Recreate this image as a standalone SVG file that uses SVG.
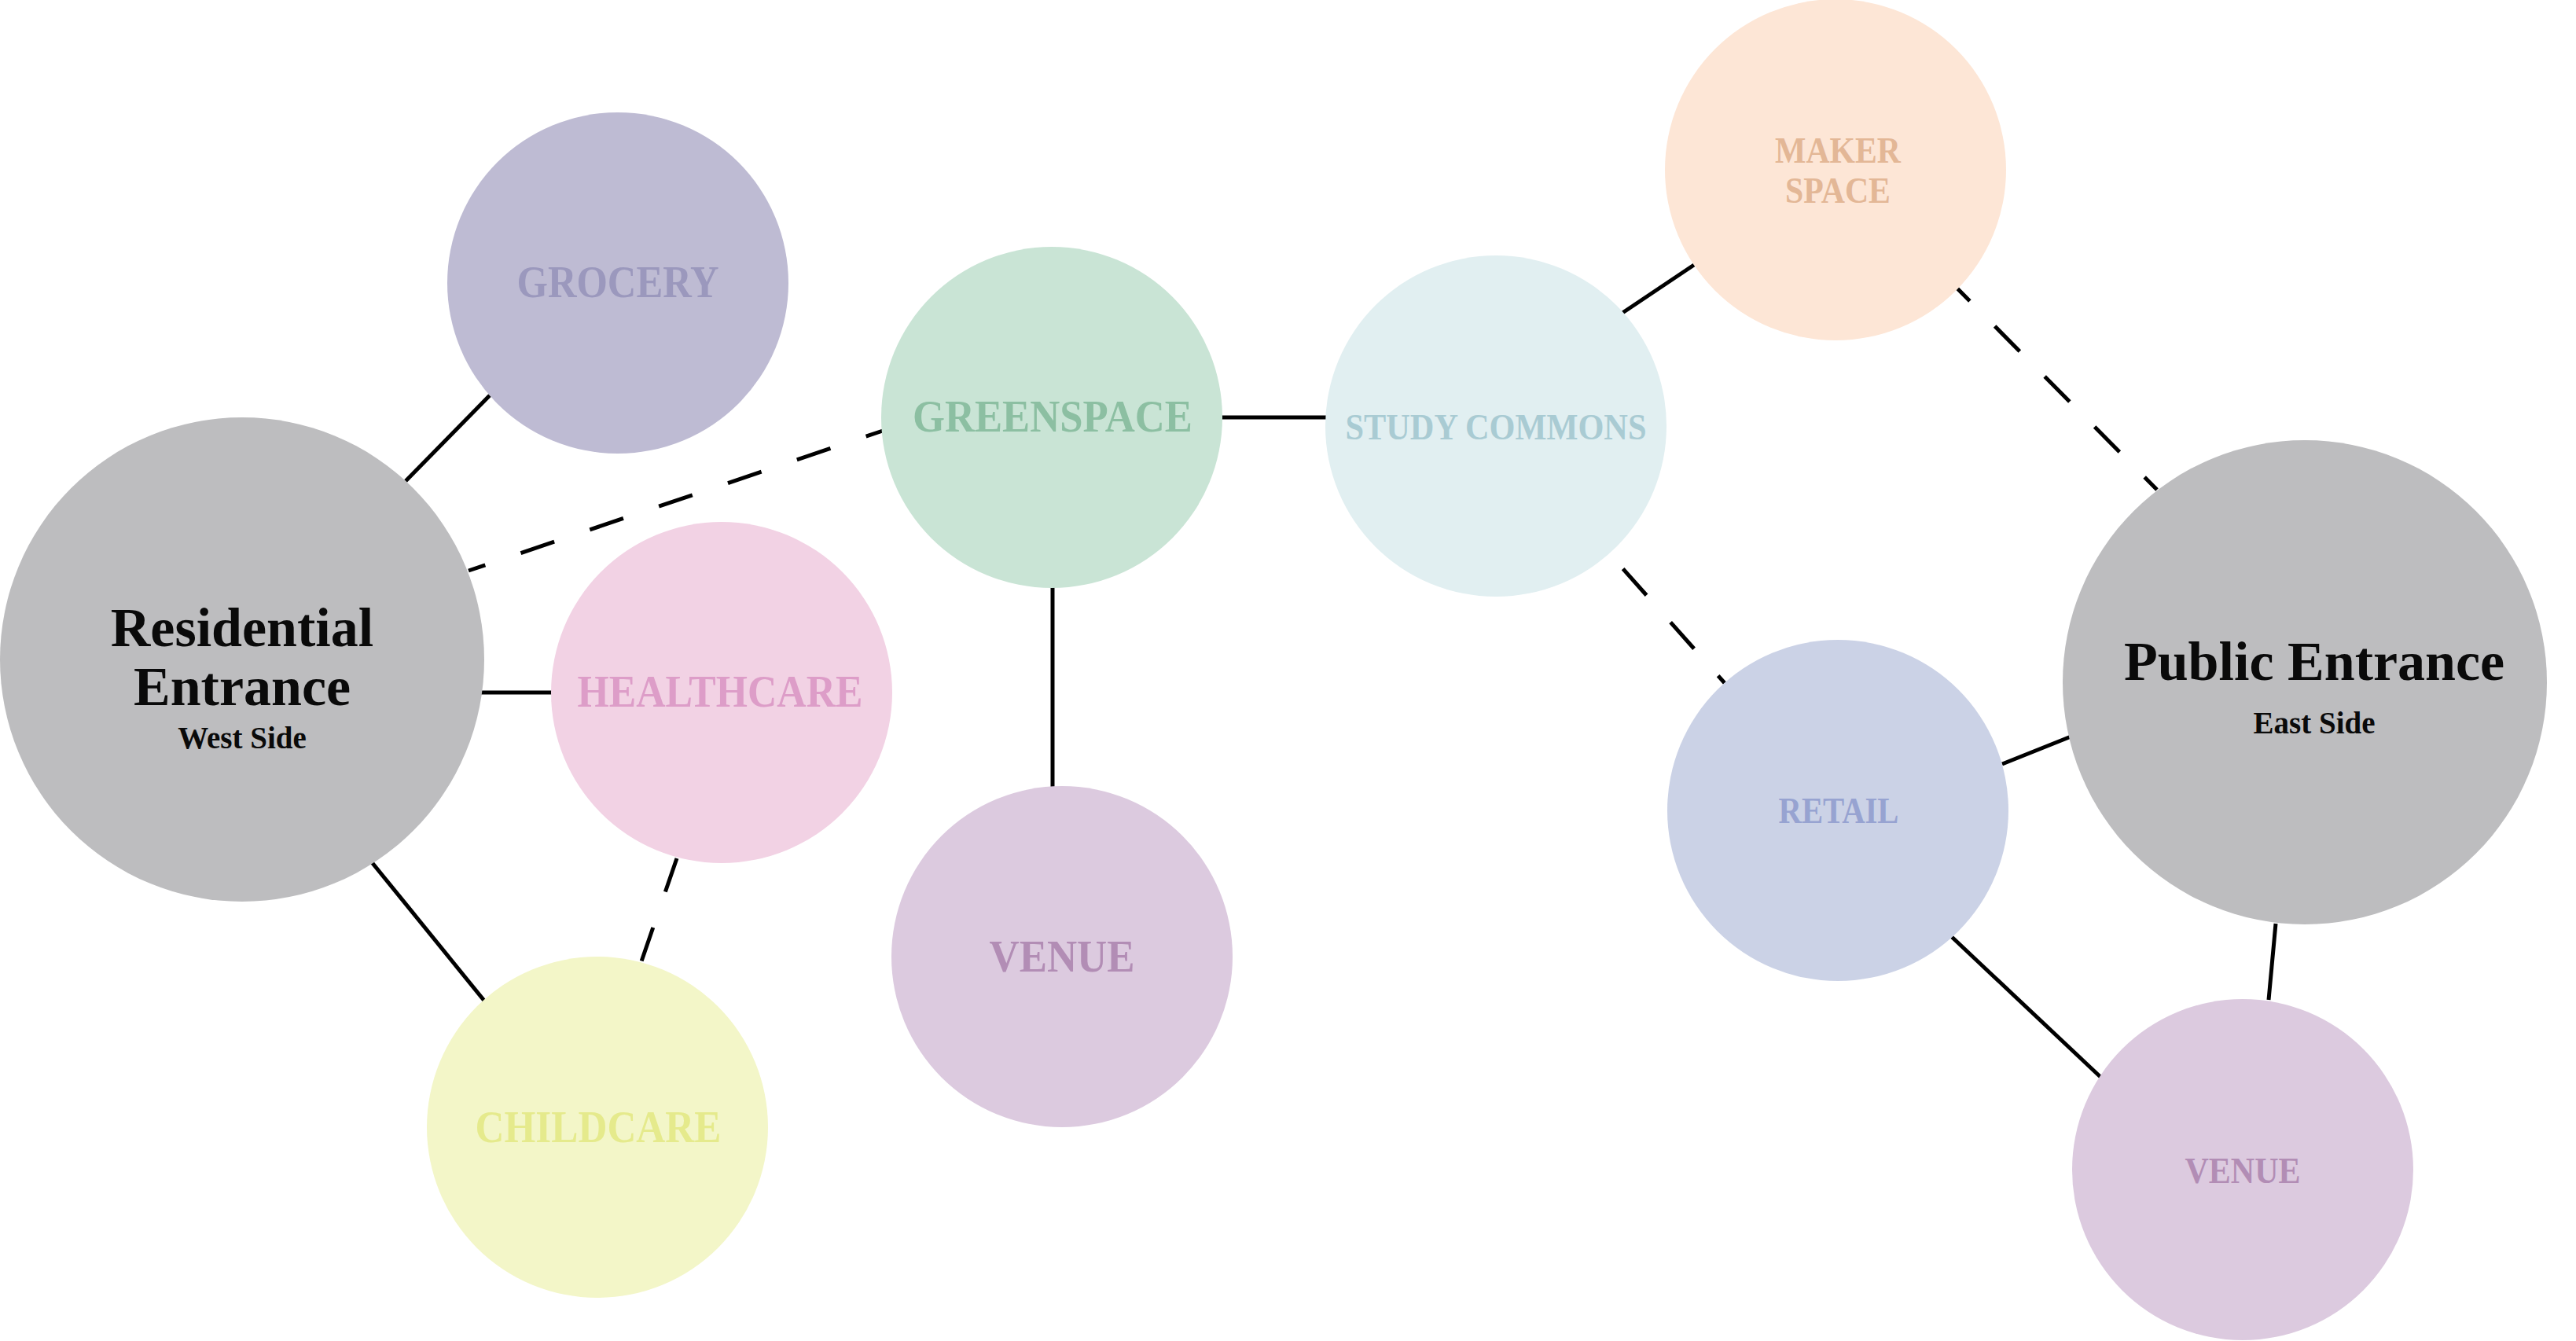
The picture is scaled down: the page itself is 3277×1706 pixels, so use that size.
<svg xmlns="http://www.w3.org/2000/svg" width="3277" height="1706" viewBox="0 0 3277 1706">
<style>
.bg{fill:#ffffff}
.ln{stroke:#000000;stroke-width:5;fill:none;stroke-linecap:butt}
.big{fill:#bdbdbf}
.lbl{font-family:"Liberation Serif","Times New Roman",serif;font-weight:bold;text-anchor:middle}
.ent{fill:#0a0a0a;font-size:70px}
.sub{fill:#0a0a0a;font-size:39px}
.sm{font-size:56px}
.xs{font-size:46px}
</style>
<rect class="bg" x="0" y="0" width="3277" height="1706"/>
<g id="connectors">
  <line class="ln" x1="516" y1="612" x2="623" y2="503"/>
  <line class="ln" x1="596" y1="726" x2="1123" y2="548" stroke-dasharray="45 47.7" stroke-dashoffset="22.5"/>
  <line class="ln" x1="612" y1="881" x2="704" y2="881"/>
  <line class="ln" x1="473" y1="1097" x2="616" y2="1273"/>
  <line class="ln" x1="861" y1="1092" x2="816" y2="1223" stroke-dasharray="45 48"/>
  <line class="ln" x1="1339" y1="745" x2="1339" y2="1004"/>
  <line class="ln" x1="1552" y1="531" x2="1690" y2="531"/>
  <line class="ln" x1="2064" y1="398" x2="2155" y2="337"/>
  <line class="ln" x1="2048" y1="705" x2="2194" y2="869" stroke-dasharray="45 46" stroke-dashoffset="66"/>
  <line class="ln" x1="2490" y1="367" x2="2744" y2="623" stroke-dasharray="45 45.15" stroke-dashoffset="22.5"/>
  <line class="ln" x1="2547" y1="972" x2="2637" y2="936"/>
  <line class="ln" x1="2483" y1="1192" x2="2672" y2="1370"/>
  <line class="ln" x1="2895" y1="1175" x2="2886" y2="1272"/>
</g>
<g id="residential-entrance">
  <circle class="big" cx="308" cy="839" r="308"/>
  <text class="lbl ent" x="308" y="822">Residential</text>
  <text class="lbl ent" x="308" y="897">Entrance</text>
  <text class="lbl sub" x="308" y="952">West Side</text>
</g>
<g id="grocery">
  <circle cx="786" cy="360" r="217" fill="#bebbd3"/>
  <text class="lbl sm" x="786" y="378" fill="#9b98bd" textLength="257" lengthAdjust="spacingAndGlyphs">GROCERY</text>
</g>
<g id="healthcare">
  <circle cx="918" cy="881" r="217" fill="#f2d2e4"/>
  <text class="lbl sm" x="916" y="899" fill="#dd9dc8" textLength="363" lengthAdjust="spacingAndGlyphs">HEALTHCARE</text>
</g>
<g id="childcare">
  <circle cx="760" cy="1434" r="217" fill="#f3f6c8"/>
  <text class="lbl sm" x="761" y="1453" fill="#e5ea8c" textLength="313" lengthAdjust="spacingAndGlyphs">CHILDCARE</text>
</g>
<g id="greenspace">
  <circle cx="1338" cy="531" r="217" fill="#c9e4d5"/>
  <text class="lbl sm" x="1339" y="549" fill="#8cbfa2" textLength="356" lengthAdjust="spacingAndGlyphs">GREENSPACE</text>
</g>
<g id="venue-1">
  <circle cx="1351" cy="1217" r="217" fill="#dccadf"/>
  <text class="lbl sm" x="1351" y="1236" fill="#b28db5" textLength="185" lengthAdjust="spacingAndGlyphs">VENUE</text>
</g>
<g id="study-commons">
  <circle cx="1903" cy="542" r="217" fill="#e1eff1"/>
  <text class="lbl xs" x="1903" y="559" fill="#a9cbd3" textLength="383" lengthAdjust="spacingAndGlyphs">STUDY COMMONS</text>
</g>
<g id="maker-space">
  <circle cx="2335" cy="216" r="217" fill="#fde6d6"/>
  <text class="lbl xs" x="2338" y="207" fill="#e3b796" textLength="160" lengthAdjust="spacingAndGlyphs">MAKER</text>
  <text class="lbl xs" x="2338" y="258" fill="#e3b796" textLength="134" lengthAdjust="spacingAndGlyphs">SPACE</text>
</g>
<g id="retail">
  <circle cx="2338" cy="1031" r="217" fill="#cbd2e6"/>
  <text class="lbl xs" x="2339" y="1047" fill="#97a3d1" textLength="153" lengthAdjust="spacingAndGlyphs">RETAIL</text>
</g>
<g id="public-entrance">
  <circle class="big" cx="2932" cy="868" r="308"/>
  <text class="lbl ent" x="2944" y="865">Public Entrance</text>
  <text class="lbl sub" x="2944" y="933">East Side</text>
</g>
<g id="venue-2">
  <circle cx="2853" cy="1488" r="217" fill="#dccadf"/>
  <text class="lbl xs" x="2853" y="1505" fill="#b28db5" textLength="147" lengthAdjust="spacingAndGlyphs">VENUE</text>
</g>
</svg>
